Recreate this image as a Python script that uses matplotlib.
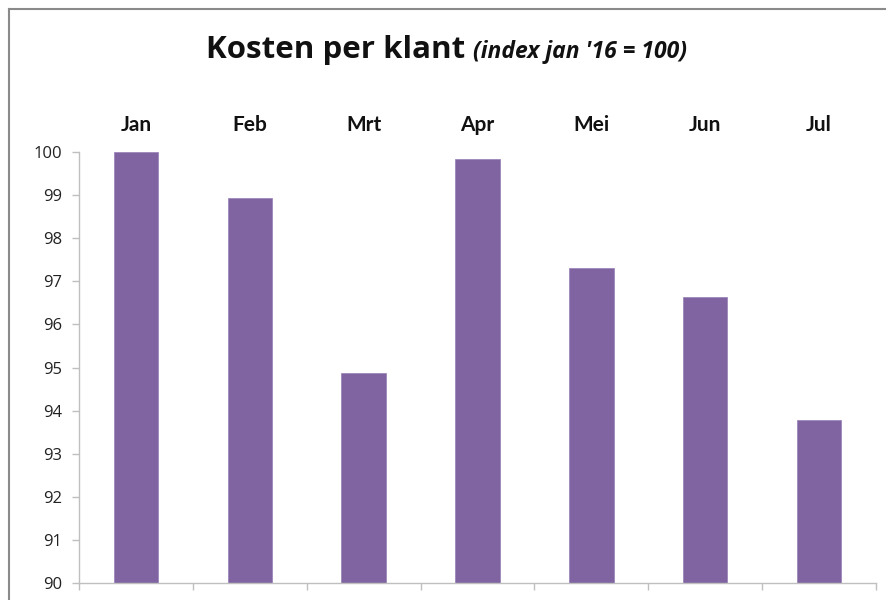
import matplotlib
matplotlib.use('Agg')
import matplotlib.pyplot as plt

plt.rcParams['font.family'] = ['Open Sans', 'DejaVu Sans']

maanden = ['Jan', 'Feb', 'Mrt', 'Apr', 'Mei', 'Jun', 'Jul']
index = [100.0, 98.93, 94.87, 99.84, 97.31, 96.64, 93.78]
yticks = list(range(90, 101))

fig = plt.figure(figsize=(8.86, 6), dpi=100)
ax = fig.add_axes([79/886, 1 - 583/600, (876 - 79)/886, (583 - 152)/600])

x = list(range(len(maanden)))
ax.bar(x, index, width=0.39, color='#8064A2', edgecolor='#9d86ba', linewidth=0.6, bottom=0)
ax.set_ylim(90, 100)
ax.set_xlim(-0.5, len(maanden) - 0.5)
ax.set_yticks(yticks)
ax.set_yticklabels([str(v) for v in yticks], fontsize=12, color='#222222')

# category boundary ticks on the x axis, no labels there
ax.set_xticks([i - 0.5 for i in range(len(maanden) + 1)])
ax.set_xticklabels([])
ax.tick_params(axis='x', direction='out', length=5, color='#bfbfbf', width=1)
ax.tick_params(axis='y', direction='out', length=5, color='#bfbfbf', width=1, pad=7)

for s in ['top', 'right']:
    ax.spines[s].set_visible(False)
for s in ['left', 'bottom']:
    ax.spines[s].set_color('#bfbfbf')
    ax.spines[s].set_linewidth(1)

# month names above the bars, on one baseline (Lato: the J stays on the line)
for i, m in enumerate(maanden):
    ax.text(i, 1.0487, m, transform=ax.get_xaxis_transform(), ha='center', va='baseline',
            fontsize=15, fontweight='bold', color='#111111', family=['Lato', 'DejaVu Sans'])

fig.text(465/886, 1 - 58/600, 'Kosten per klant', ha='right', va='baseline',
         fontsize=22.5, fontweight='bold', color='#111111')
fig.text(473/886, 1 - 58/600, "(index jan '16 = 100)", ha='left', va='baseline',
         fontsize=16.5, fontweight='bold', fontstyle='italic', color='#111111')

# frame around the chart area (only left and top visible in the crop)
fig.add_artist(plt.Line2D([9/886, 9/886], [0, 1 - 9/600], transform=fig.transFigure,
                          color='#8a8a8a', linewidth=1.5))
fig.add_artist(plt.Line2D([9/886, 1], [1 - 9/600, 1 - 9/600], transform=fig.transFigure,
                          color='#8a8a8a', linewidth=1.5))

fig.savefig('out.png', dpi=100)
